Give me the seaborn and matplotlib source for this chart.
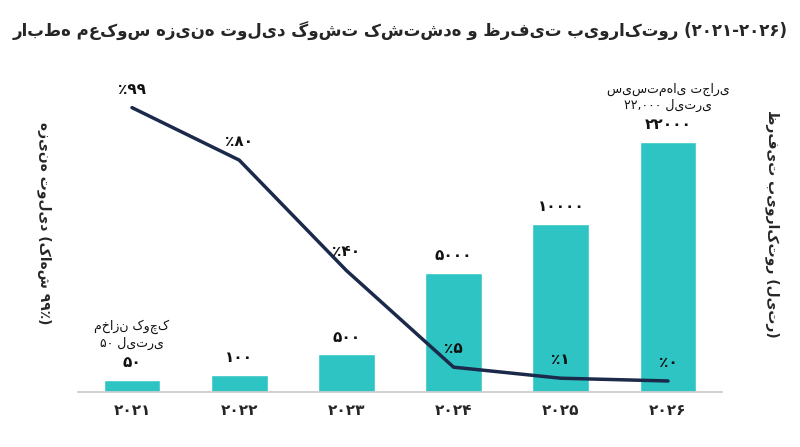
import numpy as np
import pandas as pd
import matplotlib
matplotlib.use("Agg")
import matplotlib.pyplot as plt
import seaborn as sns

years = ["۲۰۲۱", "۲۰۲۲", "۲۰۲۳", "۲۰۲۴", "۲۰۲۵", "۲۰۲۶"]
capacity = [50, 100, 500, 5000, 10000, 22000]
capacity_labels = ["۵۰", "۱۰۰", "۵۰۰", "۵۰۰۰", "۱۰۰۰۰", "۲۲۰۰۰"]
cost = [99, 80, 40, 5, 1, 0]
cost_labels = ["٪۹۹", "٪۸۰", "٪۴۰", "٪۵", "٪۱", "٪۰"]
title = "رابطه معکوس هزینه تولید گوشت کشت‌شده و ظرفیت بیوراکتور (۲۰۲۱-۲۰۲۶)"
left_label = "هزینه تولید (کاهش ۹۹٪)"
right_label = "ظرفیت بیوراکتور (لیتر)"
note_first = "مخازن کوچک\n۵۰ لیتری"
note_last = "سیستم‌های تجاری\n۲۲,۰۰۰ لیتری"

sns.set_theme(style="white")
plt.rcParams['font.family'] = ['DejaVu Sans']

fig = plt.figure(figsize=(8, 4.47), dpi=100)
ax_bar = fig.add_axes([0.098, 0.123, 0.804, 0.698])
df = pd.DataFrame({"year": years, "cap": capacity})
sns.barplot(data=df, x="year", y="cap", ax=ax_bar, color="#2EC4C4", width=0.53, saturation=1)
ax_bar.set_yscale('function', functions=(lambda v: np.sqrt(np.clip(v, 0, None)), lambda v: np.square(v)))
ax_bar.set_ylim(0, 34300)
ax_bar.set_xlim(-0.5, 5.5)
ax_bar.set_yticks([])
ax_bar.set_xlabel("")
ax_bar.set_ylabel("")
for s in ["top", "left", "right"]:
    ax_bar.spines[s].set_visible(False)
ax_bar.spines["bottom"].set_color("#cccccc")
ax_bar.tick_params(axis='x', length=0, labelsize=11, pad=8)
for t in ax_bar.get_xticklabels():
    t.set_fontweight("bold")
for i, (v, lab) in enumerate(zip(capacity, capacity_labels)):
    ax_bar.annotate(lab, (i, v), xytext=(0, 7), textcoords="offset points",
                    ha="center", va="bottom", fontsize=11, fontweight="bold", color="#111111")
ax_bar.annotate(note_first, (0, capacity[0]), xytext=(0, 22), textcoords="offset points",
                ha="center", va="bottom", fontsize=9, color="#111111", linespacing=1.2)
ax_bar.annotate(note_last, (5, capacity[5]), xytext=(0, 22), textcoords="offset points",
                ha="center", va="bottom", fontsize=9, color="#111111", linespacing=1.2)

ax_line = ax_bar.twinx()
sns.lineplot(x=list(range(len(cost))), y=cost, ax=ax_line, color="#1B2A4A", linewidth=2.5)
ax_line.set_ylim(-4.0, 109)
ax_line.set_yticks([])
ax_line.set_xlim(-0.5, 5.5)
for s in ["top", "left", "right", "bottom"]:
    ax_line.spines[s].set_visible(False)
for i, (v, lab) in enumerate(zip(cost, cost_labels)):
    ax_line.annotate(lab, (i, v), xytext=(0, 8), textcoords="offset points",
                     ha="center", va="bottom", fontsize=11, fontweight="bold", color="#111111")

fig.text(0.5, 0.93, title, ha="center", va="center", fontsize=12, fontweight="bold")
fig.text(0.055, 0.5, left_label, rotation=270, ha="center", va="center", fontsize=10, fontweight="bold")
fig.text(0.965, 0.5, right_label, rotation=270, ha="center", va="center", fontsize=10, fontweight="bold")

fig.savefig("out.png", dpi=100)
